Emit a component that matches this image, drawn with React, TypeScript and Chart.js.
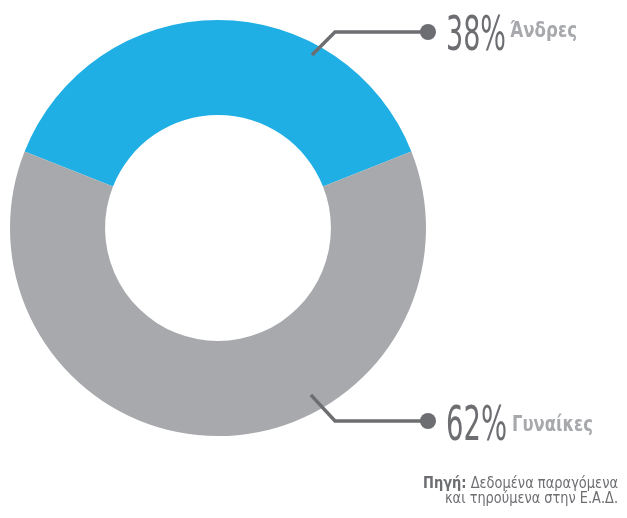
import React, { useEffect, useRef } from "react";
import { Chart, registerables } from "chart.js";
Chart.register(...registerables);

const categories = ["Άνδρες", "Γυναίκες"];
const values = [38, 62];
const colors = ["#1fafe4", "#a7a9ac"];
const sourceBold = "Πηγή:";
const sourceLine1 = " Δεδομένα παραγόμενα";
const sourceLine2 = "και τηρούμενα στην Ε.Α.Δ.";

const FONT = '"Liberation Sans Narrow", "DejaVu Sans Condensed", "Roboto", sans-serif';

function drawFit(ctx: CanvasRenderingContext2D, text: string, x: number, y: number, width: number, font: string, color: string, align: "left" | "right" = "left") {
  ctx.save();
  ctx.font = font;
  ctx.fillStyle = color;
  ctx.textBaseline = "alphabetic";
  const w = ctx.measureText(text).width;
  const s = width / w;
  const left = align === "left" ? x : x - width;
  ctx.translate(left, y);
  ctx.scale(s, 1);
  ctx.textAlign = "left";
  ctx.fillText(text, 0, 0);
  ctx.restore();
}

const labelPlugin = {
  id: "labels",
  afterDraw(chart: any) {
    const ctx: CanvasRenderingContext2D = chart.ctx;
    const meta = chart.getDatasetMeta(0);
    const arc = meta.data[0];
    const cx = arc.x, cy = arc.y, R = arc.outerRadius;
    const lineColor = "#6d6e71";
    const entries = [
      { ang: 28.5, r: 0.947, y: 32, pct: values[0] + "%", pctX: 446, pctY: 50, pctW: 60, lab: categories[0], labX: 510, labY: 37, labW: 67 },
      { ang: 150.9, r: 0.918, y: 421, pct: values[1] + "%", pctX: 446, pctY: 440, pctW: 61, lab: categories[1], labX: 512, labY: 431, labW: 81 },
    ];
    entries.forEach((e) => {
      const a = ((e.ang - 90) * Math.PI) / 180;
      const sx = cx + Math.cos(a) * R * e.r;
      const sy = cy + Math.sin(a) * R * e.r;
      const elbowX = 335;
      ctx.save();
      ctx.strokeStyle = lineColor;
      ctx.lineWidth = 3.5;
      ctx.lineJoin = "miter";
      ctx.beginPath();
      ctx.moveTo(sx, sy);
      ctx.lineTo(elbowX, e.y);
      ctx.lineTo(428, e.y);
      ctx.stroke();
      ctx.fillStyle = lineColor;
      ctx.beginPath();
      ctx.arc(428, e.y, 8, 0, Math.PI * 2);
      ctx.fill();
      ctx.restore();
      drawFit(ctx, e.pct, e.pctX, e.pctY, e.pctW, `48px ${FONT}`, lineColor);
      drawFit(ctx, e.lab, e.labX, e.labY, e.labW, `bold 21px ${FONT}`, "#a7a9ac");
    });
    // source
    ctx.save();
    ctx.font = `15px ${FONT}`;
    const w1 = ctx.measureText(sourceLine1).width;
    ctx.font = `bold 15px ${FONT}`;
    const wb = ctx.measureText(sourceBold).width;
    ctx.restore();
    const total = 195;
    const sc = total / (w1 + wb);
    drawFit(ctx, sourceBold, 423, 488, wb * sc, `bold 15px ${FONT}`, "#6d6e71");
    drawFit(ctx, sourceLine1, 423 + wb * sc, 488, w1 * sc, `15px ${FONT}`, "#6d6e71");
    drawFit(ctx, sourceLine2, 618, 503, 173, `15px ${FONT}`, "#6d6e71", "right");
  },
};

export default function App() {
  const ref = useRef<HTMLCanvasElement>(null);
  useEffect(() => {
    document.body.style.margin = "0";
    const chart = new Chart(ref.current!, {
      type: "doughnut",
      data: {
        labels: categories,
        datasets: [{ data: values, backgroundColor: colors, borderWidth: 0 }],
      },
      options: {
        animation: false,
        responsive: false,
        rotation: -68.4,
        cutout: "54.3%",
        layout: { padding: { left: 10, top: 20, right: 201, bottom: 82 } },
        plugins: { legend: { display: false }, tooltip: { enabled: false } },
      },
      plugins: [labelPlugin],
    });
    return () => chart.destroy();
  }, []);
  return (
    <div style={{ width: 627, height: 518, background: "#fff" }}>
      <canvas ref={ref} width={627} height={518} />
    </div>
  );
}
